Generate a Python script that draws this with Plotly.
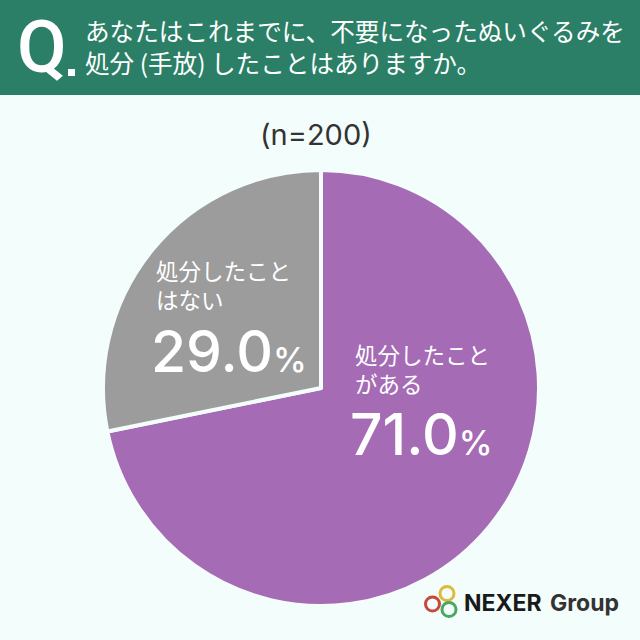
import plotly.graph_objects as go

categories = ["処分したことがある", "処分したことはない"]
# printed percentages, and the shares as the slices are actually drawn in the picture
percent_labels = [71.0, 29.0]
drawn_shares = [71.8, 28.2]
slice_colors = ["#a56bb5", "#9c9c9c"]
label_lines = [["処分したこと", "がある"], ["処分したこと", "はない"]]

question_lines = ["あなたはこれまでに、不要になったぬいぐるみを", "処分 (手放) したことはありますか。"]
sample_text = "(n=200)"

JP = "Noto Sans CJK JP"
LATIN = "Inter"
W = 640


# everything below is placed in reference pixels, y measured from the top
def px(x):
    return x / W


def py(y):
    return 1 - y / W


def add_text(fig, x, y, text, size, color="#ffffff", family=JP, anchor="left", weight=400):
    fig.add_annotation(x=px(x), y=py(y), xref="paper", yref="paper", text=text, showarrow=False,
                       xanchor=anchor, yanchor="middle", align=anchor,
                       font=dict(size=size, color=color, family=family, weight=weight))


fig = go.Figure()

fig.add_trace(go.Pie(labels=categories, values=drawn_shares, sort=False, direction="clockwise", rotation=0,
                     textinfo="none", hoverinfo="label", showlegend=False,
                     marker=dict(colors=slice_colors, line=dict(color="#f3fdfb", width=4)),
                     domain=dict(x=[px(103), px(539)], y=[py(606), py(170)])))

# header band
fig.add_shape(type="rect", xref="paper", yref="paper", x0=0, x1=1, y0=py(95), y1=1,
              fillcolor="#2a7f66", line_width=0, layer="below")

add_text(fig, 15, 48, "Q", 72, family="Roboto", weight=500)
fig.add_shape(type="rect", xref="paper", yref="paper", x0=px(68), x1=px(75), y0=py(76), y1=py(69),
              fillcolor="#ffffff", line_width=0)
add_text(fig, 83, 46, "<br>".join(question_lines), 24.6)

add_text(fig, 316, 134, sample_text, 29, color="#333333", family=LATIN, anchor="center")

# slice labels
pct = "<span style='font-size:34px'>%</span>"
add_text(fig, 353, 368, "<br>".join(label_lines[0]), 22.5)
add_text(fig, 348, 434, f"{percent_labels[0]:.1f}{pct}", 57, family=LATIN, weight=500)
add_text(fig, 154, 284, "<br>".join(label_lines[1]), 22.5)
add_text(fig, 149, 351, f"{percent_labels[1]:.1f}{pct}", 57, family=LATIN, weight=500)

# logo rings
for cx, cy, col in [(447, 593.5, "#e0b93f"), (432.5, 604, "#c8483c"), (449, 609.5, "#4aa860")]:
    fig.add_shape(type="circle", xref="paper", yref="paper", x0=px(cx - 7), x1=px(cx + 7),
                  y0=py(cy + 7), y1=py(cy - 7), line=dict(color=col, width=3))
add_text(fig, 462, 603, "<b>NEXER</b>", 23, color="#1a1a1a", family=LATIN)
add_text(fig, 548, 603, "<b>Group</b>", 23, color="#333333", family=LATIN)

fig.update_layout(width=W, height=W, margin=dict(l=0, r=0, t=0, b=0),
                  paper_bgcolor="#f3fdfb", plot_bgcolor="#f3fdfb")

# the page's default body margin would shift the chart by 8px
fig.write_html("out.html", config=dict(displayModeBar=False), post_script="document.body.style.margin='0';")
